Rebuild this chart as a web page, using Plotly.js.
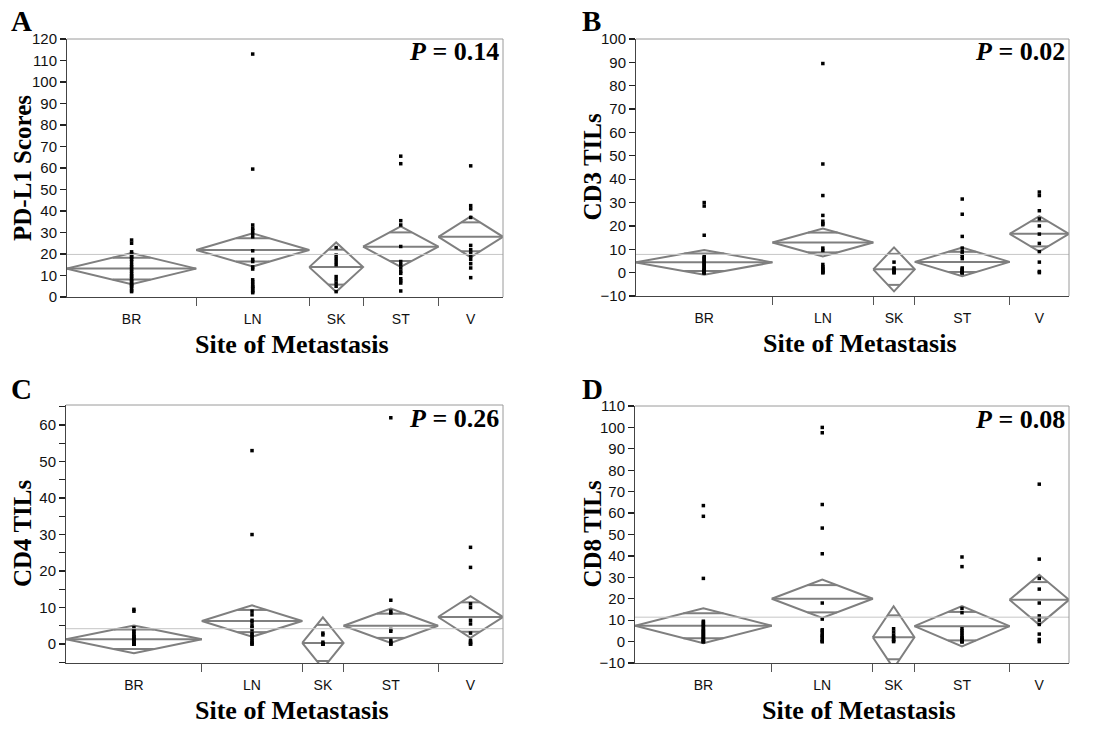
<!DOCTYPE html>
<html>
<head>
<meta charset="utf-8">
<script src="https://cdn.plot.ly/plotly-3.0.1.min.js"></script>
<style>html,body{margin:0;padding:0;background:#fff;}#chart{width:1103px;height:729px;}</style>
</head>
<body>
<div id="chart"></div>
<script>
// ---------- data ----------
const sites = ['BR', 'LN', 'SK', 'ST', 'V'];

// sample sizes (diamond widths are proportional to n)
const nPDL1 = [24, 21, 10, 14, 12];
const nCD3  = [23, 17, 7, 16, 10];
const nCD4  = [23, 17, 7, 16, 11];
const nCD8  = [23, 17, 7, 16, 10];

// group means and 95% CI half-widths
const meanPDL1 = [13.2, 21.9, 13.9, 23.4, 28.0];
const ciPDL1   = [7.2, 7.7, 11.5, 9.4, 9.5];
const meanCD3  = [4.4, 12.9, 1.4, 4.6, 16.6];
const ciCD3    = [5.3, 6.0, 9.4, 6.1, 7.6];
const meanCD4  = [1.3, 6.3, 0.3, 5.0, 7.4];
const ciCD4    = [3.8, 4.3, 7.0, 4.7, 5.7];
const meanCD8  = [7.4, 20.0, 2.0, 7.2, 19.5];
const ciCD8    = [8.2, 9.0, 14.5, 9.4, 11.7];

// grand means
const grandPDL1 = 19.8, grandCD3 = 7.8, grandCD4 = 4.2, grandCD8 = 11.4;

// individual observations
const pdl1BR = [26.5,25,21,20,19,18.5,17.5,16.5,15,14,13,12,11,10,9.5,8.5,7.5,7,6,5.5,5,4,3,2.5];
const pdl1LN = [113,59.5,33.5,32,31,29.5,28,21.5,17.5,16.5,14,13,8,7,6,5,4.5,4,3,2.5,2];
const pdl1SK = [23,19.5,18,16.5,15,9.5,8,6.5,5,2.5];
const pdl1ST = [65.5,62,35.5,33.5,23.5,16.5,15,13.5,12,11,8.5,7.5,6.5,2.8];
const pdl1V  = [61,42.5,41,37,24,22,20.5,19,17.5,15.5,13.5,9];

const cd3BR = [30,28.5,16,7,6.5,6,5.5,5,4.5,4,3.5,3,2.5,2,1.5,1,1,0.5,0.5,0,0,0,0];
const cd3LN = [89.5,46.5,33,24.5,22,21,20.5,10.5,9.5,3.5,2.5,2,1.5,1,0.5,0,0];
const cd3SK = [4.5,2,1.5,1,0.5,0,0];
const cd3ST = [31.5,25,15.5,10.5,9,8,7,6,2,1.5,1,0.5,0,0,0,0];
const cd3V  = [34.5,33,26.5,23,20,16.5,12.5,9,4.5,0.5,0];

const cd4BR = [9.5,9,4.5,4,3.5,3,2.5,2,2,1.5,1.5,1,1,0.5,0.5,0.5,0,0,0,0,0,0,0];
const cd4LN = [53,30,9,8,6.5,6,5,4.5,4,3,2.5,2,1.5,1,0.5,0,0];
const cd4SK = [3,2.5,0.5,0,0,0,0];
const cd4ST = [62,12,9,8.5,4,3.5,1,0.5,0,0];
const cd4V  = [26.5,21,11,10,6.5,5.5,3,1,0.5,0,0];

const cd8BR = [63.5,58.5,29.5,9.5,9,8,7.5,7,6,5.5,5,4.5,4,3.5,3,2.5,2,1.5,1,0.5,0,0,0];
const cd8LN = [100,97.5,64,53,41,18,10.5,5.5,5,4,3,2.5,2,1,0.5,0,0];
const cd8SK = [6,4.5,3,2,1,0.5,0];
const cd8ST = [39.5,35,15.5,13.5,6,5,4,3,2,1.5,1,0.5,0,0,0,0];
const cd8V  = [73.5,38.5,29.5,24.5,18,12,10,8,3.5,1,0];

const pValues = ['0.14', '0.02', '0.26', '0.08'];
const yTitles = ['PD-L1 Scores', 'CD3 TILs', 'CD4 TILs', 'CD8 TILs'];
const panelLetters = ['A', 'B', 'C', 'D'];
const xTitle = 'Site of Metastasis';

// ---------- assemble ----------
const W = 1103, H = 729;
const panels = [
  {n: nPDL1, mean: meanPDL1, ci: ciPDL1, grand: grandPDL1, pts: [pdl1BR, pdl1LN, pdl1SK, pdl1ST, pdl1V]},
  {n: nCD3, mean: meanCD3, ci: ciCD3, grand: grandCD3, pts: [cd3BR, cd3LN, cd3SK, cd3ST, cd3V]},
  {n: nCD4, mean: meanCD4, ci: ciCD4, grand: grandCD4, pts: [cd4BR, cd4LN, cd4SK, cd4ST, cd4V]},
  {n: nCD8, mean: meanCD8, ci: ciCD8, grand: grandCD8, pts: [cd8BR, cd8LN, cd8SK, cd8ST, cd8V]}
];

// pixel geometry of each plot frame: [left, right, top, bottom], y range
const geom = [
  {px: [67, 503, 39, 297], yr: [0, 120], minor: false},
  {px: [636, 1069, 39, 296], yr: [-10, 100], minor: false},
  {px: [66, 503, 405, 663], yr: [-5.2, 65.5], minor: true},
  {px: [635, 1069, 406, 663], yr: [-10, 110], minor: false}
];

const sans = 'Liberation Sans, Arial, sans-serif';
const serif = 'Liberation Serif, Times New Roman, serif';
const diamondColor = '#7f7f7f';

const traces = [];
const layout = {
  width: W, height: H,
  margin: {l: 0, r: 0, t: 0, b: 0},
  paper_bgcolor: '#ffffff', plot_bgcolor: '#ffffff',
  showlegend: false,
  annotations: [], shapes: []
};

panels.forEach((p, i) => {
  const k = i + 1;
  const xa = k === 1 ? 'x' : 'x' + k;
  const ya = k === 1 ? 'y' : 'y' + k;
  const xo = 'x' + (k + 4);
  const g = geom[i];
  const total = p.n.reduce((a, b) => a + b, 0);
  const bounds = [0];
  p.n.forEach(v => bounds.push(bounds[bounds.length - 1] + v));
  const centers = p.n.map((v, j) => (bounds[j] + bounds[j + 1]) / 2);

  // grand mean line (on the overlay axis so that it gets drawn)
  traces.push({x: [0, total], y: [p.grand, p.grand], xaxis: xo, yaxis: ya, mode: 'lines',
    line: {color: '#c6c6c6', width: 1}, hoverinfo: 'skip'});

  // means diamonds
  const dx = [], dy = [];
  const kk = Math.SQRT1_2;
  p.n.forEach((v, j) => {
    const l = bounds[j], r = bounds[j + 1], c = centers[j], hw = (r - l) / 2;
    const m = p.mean[j], h = p.ci[j];
    dx.push(l, c, r, c, l, null); dy.push(m, m + h, m, m - h, m, null);
    dx.push(l, r, null); dy.push(m, m, null);
    const ow = hw * (1 - kk);
    dx.push(c - ow, c + ow, null); dy.push(m + kk * h, m + kk * h, null);
    dx.push(c - ow, c + ow, null); dy.push(m - kk * h, m - kk * h, null);
  });
  traces.push({x: dx, y: dy, xaxis: xa, yaxis: ya, mode: 'lines', connectgaps: false,
    line: {color: diamondColor, width: 2}, hoverinfo: 'skip'});

  // points
  const px = [], py = [];
  p.pts.forEach((arr, j) => arr.forEach(v => { px.push(centers[j]); py.push(v); }));
  traces.push({x: px, y: py, xaxis: xa, yaxis: ya, mode: 'markers',
    marker: {symbol: 'square', size: 3.5, color: '#000'}, cliponaxis: false});

  const [L, R, T, B] = g.px;
  layout[k === 1 ? 'xaxis' : 'xaxis' + k] = {
    domain: [L / W, R / W], anchor: ya, range: [0, total], fixedrange: true,
    tickmode: 'array', tickvals: centers, ticktext: sites, ticks: '',
    ticklabelstandoff: 9,
    tickfont: {family: sans, size: 14, color: '#111'},
    showline: true, linecolor: '#444', linewidth: 1, showgrid: false, zeroline: false
  };
  // overlay axis carrying the group divider ticks
  layout['xaxis' + (k + 4)] = {
    overlaying: xa, anchor: ya, side: 'bottom', range: [0, total], fixedrange: true,
    tickmode: 'array', tickvals: bounds.slice(1, -1), ticks: 'outside', ticklen: 8,
    tickcolor: '#555', tickwidth: 1, showticklabels: false,
    showline: false, showgrid: false, zeroline: false
  };
  const yax = {
    domain: [1 - B / H, 1 - T / H], anchor: xa, range: g.yr, fixedrange: true,
    tick0: 0, dtick: 10, ticks: 'outside', ticklen: 6, tickcolor: '#222', tickwidth: 1.3,
    tickfont: {family: sans, size: 15, color: '#111'},
    showline: true, linecolor: '#444', linewidth: 1, showgrid: false, zeroline: false
  };
  if (g.minor) yax.minor = {dtick: 5, ticks: 'outside', ticklen: 6, tickcolor: '#222', tickwidth: 1.3, showgrid: false};
  layout[k === 1 ? 'yaxis' : 'yaxis' + k] = yax;

  // top / right frame
  layout.shapes.push({type: 'line', xref: xa + ' domain', yref: ya + ' domain', x0: 0, x1: 1, y0: 1, y1: 1,
    line: {color: '#9a9a9a', width: 1}});
  layout.shapes.push({type: 'line', xref: xa + ' domain', yref: ya + ' domain', x0: 1, x1: 1, y0: 0, y1: 1,
    line: {color: '#9a9a9a', width: 1}});

  // texts
  const left = i % 2 === 0;
  layout.annotations.push({text: panelLetters[i], xref: 'paper', yref: 'paper',
    x: (left ? 9 : 580) / W, y: 1 - (i < 2 ? 21 : 389) / H, xanchor: 'left', yanchor: 'middle',
    showarrow: false, font: {family: serif, size: 29, color: '#000', weight: 'bold'}});
  layout.annotations.push({text: '<i>P</i> = ' + pValues[i], xref: 'paper', yref: 'paper',
    x: (R - 2) / W, y: 1 - (T + 13) / H, xanchor: 'right', yanchor: 'middle',
    showarrow: false, font: {family: serif, size: 26, color: '#000', weight: 'bold'}});
  layout.annotations.push({text: yTitles[i], xref: 'paper', yref: 'paper', textangle: -90,
    x: (left ? 22 : 592) / W, y: 1 - ((T + B) / 2) / H, xanchor: 'center', yanchor: 'middle',
    showarrow: false, font: {family: serif, size: 25, color: '#000', weight: 'bold'}});
  layout.annotations.push({text: xTitle, xref: 'paper', yref: 'paper',
    x: ((L + R) / 2 + 7) / W, y: 1 - (B + 47) / H, xanchor: 'center', yanchor: 'middle',
    showarrow: false, font: {family: serif, size: 26, color: '#000', weight: 'bold'}});
});

Plotly.newPlot('chart', traces, layout, {displayModeBar: false, staticPlot: true});
</script>
</body>
</html>
